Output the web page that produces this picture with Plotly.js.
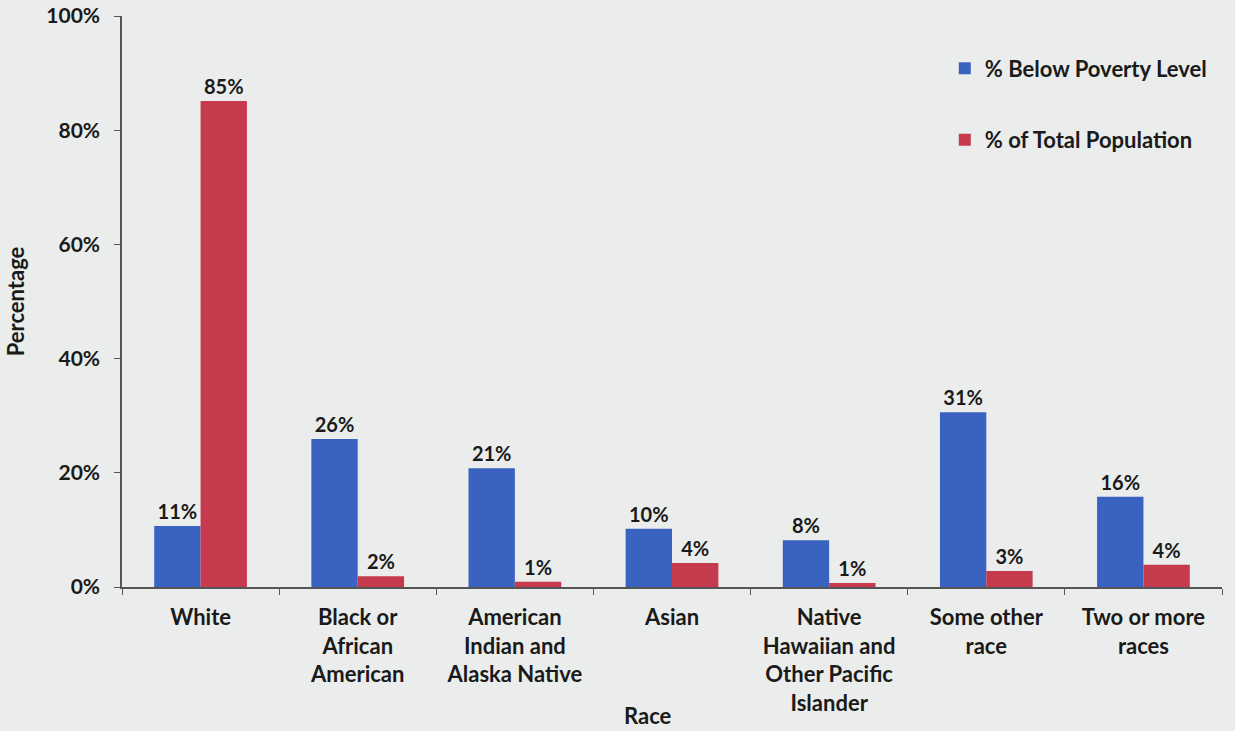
<!DOCTYPE html>
<html>
<head>
<meta charset="utf-8">
<script src="https://cdn.plot.ly/plotly-3.0.1.min.js"></script>
<style>
html,body{margin:0;padding:0;background:#eaedeb;}
#chart{width:1235px;height:731px;}
</style>
</head>
<body>
<div id="chart"></div>
<script>
const categories = [
  "White",
  "Black or<br>African<br>American",
  "American<br>Indian and<br>Alaska Native",
  "Asian",
  "Native<br>Hawaiian and<br>Other Pacific<br>Islander",
  "Some other<br>race",
  "Two or more<br>races"
];
const belowPoverty = [10.7, 25.9, 20.8, 10.2, 8.2, 30.6, 15.8];
const belowPovertyLabels = ["11%", "26%", "21%", "10%", "8%", "31%", "16%"];
const totalPopulation = [85.1, 1.9, 0.9, 4.2, 0.7, 2.8, 3.9];
const totalPopulationLabels = ["85%", "2%", "1%", "4%", "1%", "3%", "4%"];
const yTickVals = [0, 20, 40, 60, 80, 100];
const yTickText = ["0%", "20%", "40%", "60%", "80%", "100%"];

const FONT = "Lato, 'Open Sans', sans-serif";
const INK = "#1a1a1a";
const textFont = {family: FONT, size: 20, color: INK, weight: 700};

const traces = [
  {
    type: "bar",
    name: "% Below Poverty Level",
    x: categories,
    y: belowPoverty,
    text: belowPovertyLabels,
    textposition: "outside",
    textfont: textFont,
    cliponaxis: false,
    marker: {color: "#3a62c0"},
    legendgroup: "a",
    hoverinfo: "x+y"
  },
  {
    type: "bar",
    name: "% of Total Population",
    x: categories,
    y: totalPopulation,
    text: totalPopulationLabels,
    textposition: "outside",
    textfont: textFont,
    cliponaxis: false,
    marker: {color: "#c53a4d"},
    legendgroup: "b",
    hoverinfo: "x+y"
  }
];

const layout = {
  width: 1235,
  height: 731,
  paper_bgcolor: "#eaedeb",
  plot_bgcolor: "#eaedeb",
  margin: {l: 122, r: 13, t: 16, b: 144},
  barmode: "group",
  bargap: 0.41,
  bargroupgap: 0,
  showlegend: true,
  legend: {
    x: 0.748, y: 0.945, xanchor: "left", yanchor: "top",
    bgcolor: "rgba(0,0,0,0)",
    font: {family: FONT, size: 22, color: INK, weight: 700},
    tracegroupgap: 40,
    itemwidth: 30
  },
  xaxis: {
    type: "category",
    showline: true,
    linecolor: "#555",
    linewidth: 1.5,
    ticks: "outside",
    tickson: "boundaries",
    ticklen: 6,
    tickcolor: "#555",
    ticklabelstandoff: 10,
    tickfont: {family: FONT, size: 22, color: INK, weight: 700},
    showgrid: false,
    zeroline: false
  },
  yaxis: {
    range: [0, 100],
    tickvals: yTickVals,
    ticktext: yTickText,
    showline: true,
    linecolor: "#555",
    linewidth: 1.5,
    ticks: "outside",
    ticklen: 6,
    tickcolor: "#555",
    ticklabelstandoff: 10,
    tickfont: {family: FONT, size: 21, color: INK, weight: 700},
    showgrid: false,
    zeroline: false,
    title: {text: "Percentage", font: {family: FONT, size: 22, color: INK, weight: 700}, standoff: 16}
  },
  annotations: [
    {
      text: "Race", xref: "paper", yref: "paper", x: 0.478, y: -0.225,
      xanchor: "center", yanchor: "middle", showarrow: false,
      font: {family: FONT, size: 22, color: INK, weight: 700}
    }
  ]
};

Plotly.newPlot("chart", traces, layout, {displayModeBar: false, responsive: false});
</script>
</body>
</html>
